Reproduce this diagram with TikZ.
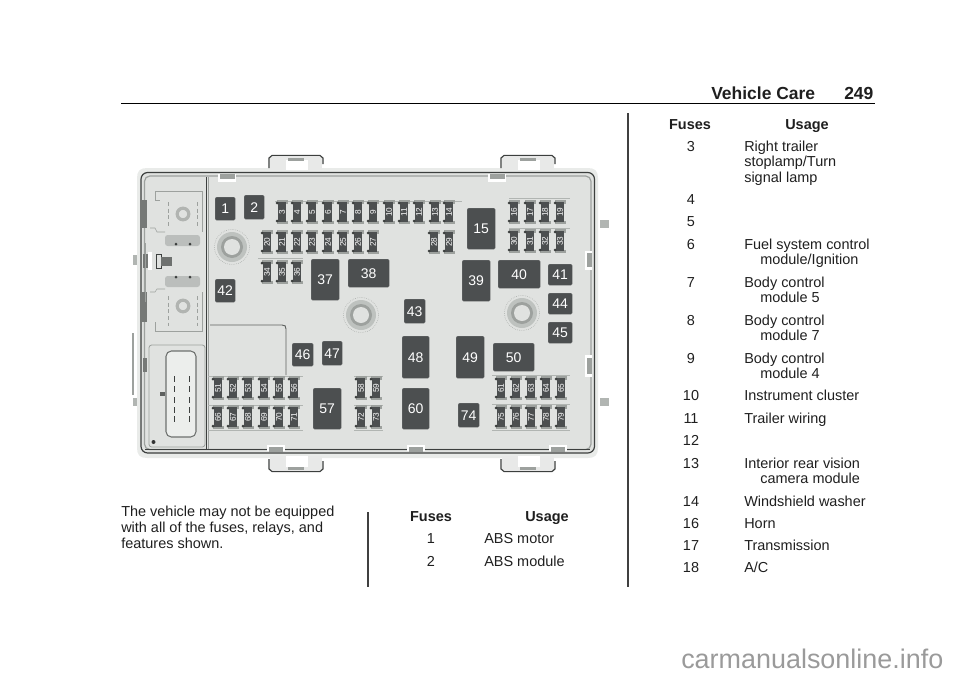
\documentclass[tikz,border=0pt]{standalone}
\usepackage{fontspec}
\setmainfont{Liberation Sans}
\definecolor{relayc}{HTML}{4C4F50}
\definecolor{panelc}{HTML}{E0E2E0}
\definecolor{edgec}{HTML}{3C3F3E}
\definecolor{midc}{HTML}{9DA19E}
\definecolor{wm}{HTML}{9A9A9A}
\tikzset{
  txt/.style={anchor=base west,inner sep=0pt,font=\fontsize{10.85}{12}\selectfont,text=black!88},
  ctr/.style={txt,anchor=base},
  hd/.style={txt,font=\fontsize{10.85}{12}\selectfont\bfseries},
  relaybox/.style={fill=relayc,draw=relayc!80,rounded corners=1pt,line width=.3pt,inner sep=0pt,text=white,font=\fontsize{10.5}{12}\selectfont},
  fusebody/.style={fill=relayc,draw=none},
  fuselabel/.style={inner sep=0pt,rotate=90,text=white,font=\fontsize{6.2}{7}\selectfont},
  housing/.style={draw=edgec,line width=.9pt,fill=panelc,rounded corners=5pt},
}
\newcommand{\relay}[6]{% name, x1,y1,x2,y2, label
  \node[relaybox,minimum width={(#4-#2)*.75pt},minimum height={(#5-#3)*.75pt},anchor=north west] (r#1) at (#2,#3) {#6};}
\newcommand{\fusecell}[3]{% label,x,y
  \fill[midc] (#2-5.5,#3-12) rectangle (#2+5.5,#3-8.5);
  \fill[midc] (#2-5.5,#3+8.5) rectangle (#2+5.5,#3+12);
  \fill[fusebody] (#2-4.2,#3-10) rectangle (#2+4.2,#3+10);
  \fill[edgec] (#2-5,#3-9) circle (1.5);
  \fill[edgec] (#2-5,#3+9) circle (1.5);
  \node[fuselabel] (f#1) at (#2,#3) {#1};}
\newcommand{\boltring}[2]{%
  \draw[midc,line width=.4pt,densely dotted] (#1,#2) circle (17.5);
  \fill[midc!50!panelc] (#1,#2) circle (15);
  \fill[midc] (#1,#2) circle (11);
  \fill[panelc] (#1,#2) circle (8);}
\newcommand{\tabup}[1]{% top tab, left x
  \fill[panelc!75!white] (#1+1,157) rectangle (#1+53,170);
  \fill[white] (#1+17,160) rectangle (#1+39,170);
  \fill[midc] (#1+19,158) rectangle (#1+35,161);
  \draw[edgec,line width=.9pt,line join=round] (#1,168)--(#1,158)--(#1+3,155.5)--(#1+51,155.5)--(#1+54,158)--(#1+54,164);}
\newcommand{\tabdown}[1]{%
  \fill[panelc!75!white] (#1+1,456) rectangle (#1+53,470);
  \fill[white] (#1+17,456) rectangle (#1+39,467);
  \fill[midc] (#1+19,467) rectangle (#1+35,470);
  \draw[edgec,line width=.9pt,line join=round] (#1,459)--(#1,469)--(#1+3,471.5)--(#1+51,471.5)--(#1+54,469)--(#1+54,461);}
\newcommand{\notch}[1]{% gray notch on the wall
  \fill[white] (#1-9,174) rectangle (#1+9,182);
  \fill[midc] (#1-7.5,174) rectangle (#1+7.5,179);}
\newcommand{\notchb}[1]{%
  \fill[white] (#1-9,445) rectangle (#1+9,451);
  \fill[midc] (#1-7,447) rectangle (#1+7,452);}
\begin{document}
\begin{tikzpicture}[x=.75pt,y=-.75pt]
\useasboundingbox (0,0) rectangle (960,678);
% ---- header
\node[hd,font=\fontsize{13.1}{15}\selectfont\bfseries] (title) at (711,99) {Vehicle Care};
\node[hd,font=\fontsize{13.1}{15}\selectfont\bfseries] (page) at (844,99) {249};
\draw[black,line width=.6pt] (121,103) -- (875,103);
% ---- fuse box housing
\fill[panelc!70!white] (137,178) .. controls (137,171) and (140,168) .. (147,168) -- (588,168) .. controls (595,168) and (598,171) .. (598,178) -- (598,448) .. controls (598,455) and (595,458) .. (588,458) -- (147,458) .. controls (140,458) and (137,455) .. (137,448) -- cycle;
\tabup{269}\tabup{501}\tabdown{269}\tabdown{501}
\draw[housing] (141,172.5) rectangle (594.5,453);
\draw[midc,line width=.9pt,rounded corners=4pt,fill=panelc] (144.5,176) rectangle (591,449.5);
\draw[edgec,line width=.7pt] (206.5,177) -- (206.5,450);
\draw[midc,line width=.5pt] (208,177) -- (208,450);
\draw[edgec,line width=.5pt] (145,449) -- (590,449);
\notch{227}\notch{497}
\notchb{276}\notchb{416}\notchb{558}
\fill[white] (585,251) rectangle (592,270);
\fill[midc] (587,253) rectangle (592,267);
\fill[white] (585,355) rectangle (592,377);
\fill[midc] (587,358) rectangle (592,374);
% side clips
\fill[midc!70!panelc] (133,255) rectangle (137,265);
\fill[midc!70!panelc] (600,220) rectangle (609,228);
\fill[midc!70!panelc] (600,398) rectangle (609,406);
\fill[midc!70!panelc] (133,398) rectangle (137,406);
\fill[midc!75!black] (140,200) rectangle (147,228);
\fill[midc!75!black] (140,292) rectangle (147,322);
\fill[midc!75!black] (143,358) rectangle (147,372);
\draw[midc,line width=.9pt] (133,333) -- (133,395);
% left compartment
\draw[midc,line width=.4pt] (155,191) -- (155,200) -- (160,200);
\draw[midc,line width=.4pt] (155,191) -- (202,191) -- (202,232);
\draw[midc,line width=.4pt] (150,228) -- (155,228) -- (157,232) -- (165,232);
\draw[midc,line width=.4pt,densely dashed] (168,202) -- (168,226);\draw[midc,line width=.4pt,densely dashed] (197,202) -- (197,226);
\draw[midc,line width=.4pt] (202,292) -- (202,331) -- (155,331) -- (155,322);
\draw[midc,line width=.4pt] (150,292) -- (155,292) -- (157,289) -- (165,289);
\draw[midc,line width=.4pt,densely dashed] (168,296) -- (168,326);\draw[midc,line width=.4pt,densely dashed] (197,296) -- (197,326);
\draw[midc!80!white,line width=2.4pt] (183,214) circle (5.8);
\draw[midc!80!white,line width=2.4pt] (183,306) circle (5.8);
\fill[midc!55!panelc,rounded corners=2pt] (165,235) rectangle (200,246);
\fill[midc!55!panelc,rounded corners=2pt] (165,276) rectangle (200,287);
\foreach \p/\q in {176/244,190/244,176/277,190/277} \fill[edgec] (\p,\q) circle (1.5);
\draw[edgec,line width=.7pt] (156,254) rectangle (161,268);
\fill[midc!70!black] (161,257) rectangle (172,266);
\fill[white] (148,252) rectangle (152,270);
\fill[midc!75!black] (143,254) rectangle (148,268);
\draw[midc,line width=.6pt] (145,243) -- (145,302);
% connector compartment
\draw[midc,line width=.6pt,rounded corners=2pt] (149,345) rectangle (205,447);
\draw[midc!70!black,line width=.8pt,rounded corners=4pt,fill=panelc!60!white] (166,351) rectangle (196,437);
\foreach \yy in {379,389,400,410,419} {
  \fill[edgec] (173.5,\yy-3) rectangle (174.5,\yy+3);
  \fill[edgec] (188.5,\yy-3) rectangle (189.5,\yy+3);}
\fill[midc!60!black] (160,392) rectangle (165,396);
\fill[black!80] (153.5,442) circle (2);
% reset box
\draw[midc!60!black,line width=.7pt] (210,325) -- (282,325) .. controls (285,325) and (286,326) .. (286,329) -- (286,375);
% rule lines near fuses
\foreach \xa/\xb/\yy in {275/462/201,258/303/258,208/303/376,208/303/405,208/303/430,354/383/376,354/383/405,354/383/430,492/570/375,492/570/404,492/570/430,509/570/198,509/570/228}
  \draw[midc!70!panelc,line width=.5pt] (\xa,\yy) -- (\xb,\yy);
% bolts
\boltring{232}{247}\boltring{361}{315}\boltring{522}{313}
% relays
\relay{1}{215}{197}{235}{220}{1}
\relay{2}{244}{195}{264}{219}{2}
\relay{42}{215}{279}{235}{302}{42}
\relay{37}{311}{259}{339}{300}{37}
\relay{38}{348}{259}{389}{287}{38}
\relay{15}{467}{208}{495}{249}{15}
\relay{39}{462}{260}{490}{301}{39}
\relay{40}{498}{260}{540}{288}{40}
\relay{41}{548}{264}{572}{285}{41}
\relay{44}{548}{293}{572}{314}{44}
\relay{43}{404}{299}{425}{323}{43}
\relay{45}{548}{322}{572}{343}{45}
\relay{48}{402}{336}{429}{378}{48}
\relay{49}{456}{336}{484}{378}{49}
\relay{50}{493}{343}{534}{371}{50}
\relay{60}{402}{388}{429}{429}{60}
\relay{74}{458}{403}{479}{427}{74}
\relay{46}{292}{343}{313}{366}{46}
\relay{47}{322}{341}{342}{365}{47}
\relay{57}{313}{388}{341}{429}{57}
% fuses
\foreach \n/\x in {3/282,4/297,5/312,6/328,7/343,8/358,9/373,10/389,11/404,12/419,13/435,14/449,16/514,17/530,18/545,19/560} {\fusecell{\n}{\x}{212}}
\foreach \n/\x in {20/267,21/282,22/297,23/312,24/328,25/343,26/358,27/373,28/434,29/449} {\fusecell{\n}{\x}{242}}
\foreach \n/\x in {30/514,31/530,32/545,33/560} {\fusecell{\n}{\x}{241}}
\foreach \n/\x in {34/267,35/282,36/297} {\fusecell{\n}{\x}{272}}
\foreach \n/\x in {51/218,52/233,53/248,54/264,55/279,56/294,58/361,59/376,61/501,62/516,63/531,64/546,65/561} {\fusecell{\n}{\x}{388}}
\foreach \n/\x in {66/218,67/233,68/248,69/264,70/279,71/294,72/361,73/376,75/501,76/516,77/531,78/546,79/561} {\fusecell{\n}{\x}{417}}
% ---- body text
\node[txt] (p1) at (121,516) {The vehicle may not be equipped};
\node[txt] (p2) at (121,532) {with all of the fuses, relays, and};
\node[txt] (p3) at (121,548) {features shown.};
\draw[black!75,line width=.9pt] (368,512) -- (368,587);
\draw[black!75,line width=.9pt] (628,113) -- (628,587);
% middle table
\node[hd,anchor=base] (m1) at (431,521) {Fuses};
\node[hd,anchor=base] (m2) at (547,521) {Usage};
\node[ctr] (m3) at (431,543) {1};
\node[txt] (m4) at (484,543) {ABS motor};
\node[ctr] (m5) at (431,566) {2};
\node[txt] (m6) at (484,566) {ABS module};
% right table
\node[hd,anchor=base] (c1) at (690,129) {Fuses};
\node[hd,anchor=base] (c2) at (807,129) {Usage};
\foreach \n/\yy in {3/151,4/204,5/226,6/249,7/287,8/325,9/363,10/400,11/423,12/445,13/468,14/506,16/528,17/550,18/572}
  \node[ctr] (n\n) at (691,\yy) {\n};
\node[txt] (t3a) at (744,151) {Right trailer};
\node[txt] (t3b) at (744,166.5) {stoplamp/Turn};
\node[txt] (t3c) at (744,182) {signal lamp};
\node[txt] (t6a) at (744,249) {Fuel system control};
\node[txt] (t6b) at (760,264.5) {module/Ignition};
\node[txt] (t7a) at (744,287) {Body control};
\node[txt] (t7b) at (760,302.5) {module 5};
\node[txt] (t8a) at (744,325) {Body control};
\node[txt] (t8b) at (760,340.5) {module 7};
\node[txt] (t9a) at (744,363) {Body control};
\node[txt] (t9b) at (760,378.5) {module 4};
\node[txt] (t10) at (744,400) {Instrument cluster};
\node[txt] (t11) at (744,423) {Trailer wiring};
\node[txt] (t13a) at (744,468) {Interior rear vision};
\node[txt] (t13b) at (760,483.5) {camera module};
\node[txt] (t14) at (744,506) {Windshield washer};
\node[txt] (t16) at (744,528) {Horn};
\node[txt] (t17) at (744,550) {Transmission};
\node[txt] (t18) at (744,572) {A/C};
% watermark
\node[txt,text=wm,font=\fontsize{20.2}{22}\selectfont] (wmark) at (681,668) {carmanualsonline.info};
\end{tikzpicture}
\end{document}
